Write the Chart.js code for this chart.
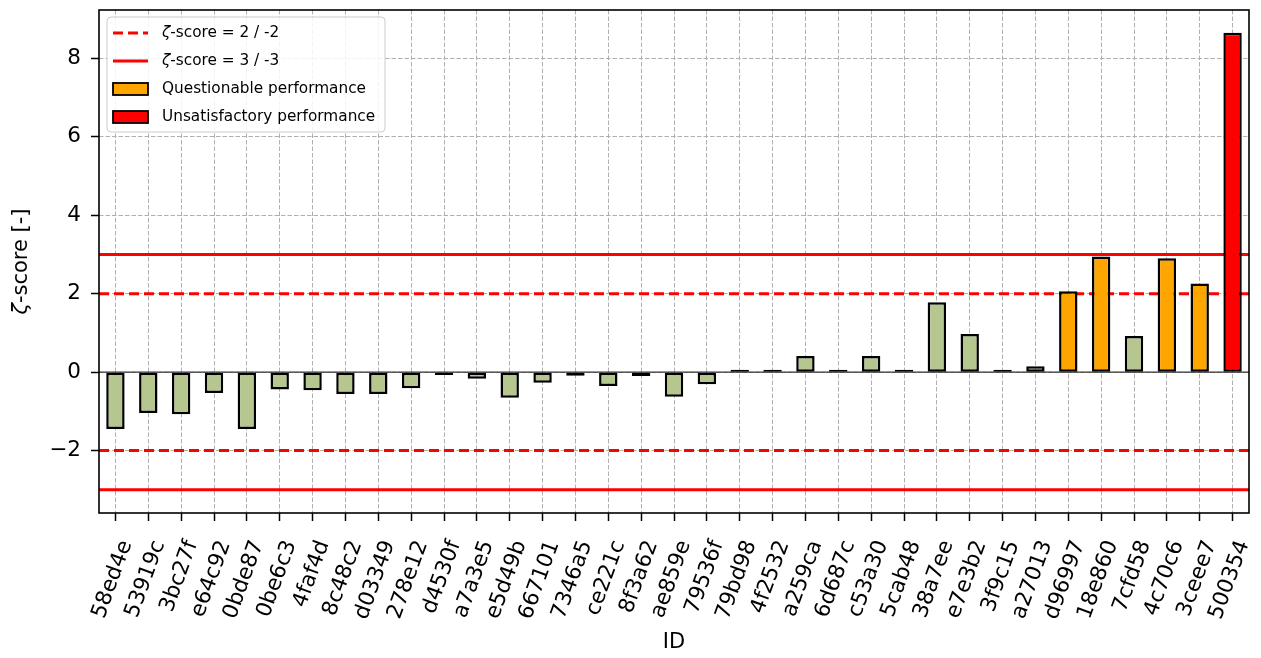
<!DOCTYPE html>
<html>
<head>
<meta charset="utf-8">
<script src="https://cdn.jsdelivr.net/npm/chart.js@4.4.1/dist/chart.umd.min.js"></script>
<style>
    html, body { margin: 0; padding: 0; background: #fff; }
    #wrap { width: 1261px; height: 658px; }
</style>
</head>
<body>
<div id="wrap"><canvas id="zChart" width="1261" height="658"></canvas></div>
<script>

// Participant IDs and their zeta scores
const ids = [
    "58ed4e", "53919c", "3bc27f", "e64c92", "0bde87", "0be6c3", "4faf4d",
    "8c48c2", "d03349", "278e12", "d4530f", "a7a3e5", "e5d49b", "667101",
    "7346a5", "ce221c", "8f3a62", "ae859e", "79536f", "79bd98", "4f2532",
    "a259ca", "6d687c", "c53a30", "5cab48", "38a7ee", "e7e3b2", "3f9c15",
    "a27013", "d96997", "18e860", "7cfd58", "4c70c6", "3ceee7", "500354"
];
const zScores = [
    -1.45, -1.04, -1.07, -0.53, -1.45, -0.44, -0.46,
    -0.56, -0.56, -0.41, -0.07, -0.17, -0.65, -0.27,
    -0.09, -0.35, -0.10, -0.63, -0.31, 0.005, 0.005,
    0.41, 0.05, 0.41, 0.005, 1.78, 0.97, 0.005,
    0.15, 2.06, 2.95, 0.92, 2.90, 2.26, 8.65
];

const yTicks = [-2, 0, 2, 4, 6, 8];
const warnLimit   = 2;
const actionLimit = 3;

const legendLabels = [
    "-score = 2 / -2",
    "-score = 3 / -3",
    "Questionable performance",
    "Unsatisfactory performance"
];

const GREEN  = "#b5c78f";
const ORANGE = "#ffa500";
const RED    = "#ff0000";
const FONT   = "'DejaVu Sans', sans-serif";
const TICK_SIZE = 21.5;

const barColors = zScores.map(z => {
    const a = Math.abs(z);
    if(a >= actionLimit) return RED;
    if(a >= warnLimit) return ORANGE;
    return GREEN;
});

function hline(ctx, area, y, color, width, dash){
    ctx.save();
    ctx.beginPath();
    ctx.setLineDash(dash);
    ctx.strokeStyle = color;
    ctx.lineWidth = width;
    ctx.moveTo(area.left, y);
    ctx.lineTo(area.right, y);
    ctx.stroke();
    ctx.restore();
}

// zeta with italic glyph followed by normal text
function zetaText(ctx, text, x, y, size){
    ctx.font = `italic ${size}px ${FONT}`;
    ctx.fillText("ζ", x, y);
    const w = ctx.measureText("ζ").width;
    ctx.font = `${size}px ${FONT}`;
    ctx.fillText(text, x + w, y);
    return w + ctx.measureText(text).width;
}

const refLines = {
    id: "refLines",
    beforeDatasetsDraw(chart){
        const {ctx, chartArea, scales: {y}} = chart;
        hline(ctx, chartArea, y.getPixelForValue(0), "#333", 1.2, []);
        [warnLimit, -warnLimit].forEach(v =>
            hline(ctx, chartArea, y.getPixelForValue(v), RED, 3, [10, 5]));
        [actionLimit, -actionLimit].forEach(v =>
            hline(ctx, chartArea, y.getPixelForValue(v), RED, 3, []));
    },
    afterDraw(chart){
        const {ctx, chartArea} = chart;

        // frame
        ctx.save();
        ctx.strokeStyle = "#000";
        ctx.lineWidth = 1.6;
        ctx.strokeRect(chartArea.left, chartArea.top,
            chartArea.right - chartArea.left, chartArea.bottom - chartArea.top);
        ctx.restore();

        // axis titles
        ctx.save();
        ctx.fillStyle = "#000";
        ctx.textBaseline = "middle";
        ctx.font = `21px ${FONT}`;
        ctx.textAlign = "center";
        ctx.fillText("ID", (chartArea.left + chartArea.right) / 2, 643);

        ctx.translate(22, (chartArea.top + chartArea.bottom) / 2);
        ctx.rotate(-Math.PI / 2);
        ctx.textAlign = "left";
        ctx.font = `italic 21px ${FONT}`;
        const zw = ctx.measureText("ζ").width;
        ctx.font = `21px ${FONT}`;
        const tw = ctx.measureText("-score [-]").width;
        zetaText(ctx, "-score [-]", -(zw + tw) / 2, 0, 21);
        ctx.restore();

        // legend
        const lx = chartArea.left + 8, ly = chartArea.top + 7;
        const lw = 278, lh = 115;
        ctx.save();
        ctx.beginPath();
        ctx.roundRect(lx, ly, lw, lh, 4);
        ctx.fillStyle = "rgba(255,255,255,0.85)";
        ctx.fill();
        ctx.strokeStyle = "#cccccc";
        ctx.lineWidth = 1;
        ctx.stroke();

        ctx.textBaseline = "middle";
        ctx.textAlign = "left";
        ctx.fillStyle = "#000";
        legendLabels.forEach((label, i) => {
            const cy = ly + 16 + i * 28;
            const hx = lx + 6;
            if(i < 2){
                ctx.beginPath();
                ctx.setLineDash(i === 0 ? [10, 5] : []);
                ctx.strokeStyle = RED;
                ctx.lineWidth = 3;
                ctx.moveTo(hx, cy);
                ctx.lineTo(hx + 35, cy);
                ctx.stroke();
                ctx.setLineDash([]);
                ctx.fillStyle = "#000";
                zetaText(ctx, label, lx + 55, cy, 15.3);
            } else {
                ctx.fillStyle = i === 2 ? ORANGE : RED;
                ctx.fillRect(hx, cy - 6, 35, 12);
                ctx.strokeStyle = "#000";
                ctx.lineWidth = 1.8;
                ctx.strokeRect(hx, cy - 6, 35, 12);
                ctx.fillStyle = "#000";
                ctx.font = `15.3px ${FONT}`;
                ctx.fillText(label, lx + 55, cy);
            }
        });
        ctx.restore();
    }
};

new Chart(document.getElementById("zChart"), {
    type: "bar",
    data: {
        labels: ids,
        datasets: [{
            data: zScores,
            backgroundColor: barColors,
            borderColor: "#000",
            borderWidth: 2.5,
            borderSkipped: false,
            minBarLength: 2.5,
            barPercentage: 0.56,
            categoryPercentage: 1.0
        }]
    },
    options: {
        responsive: false,
        devicePixelRatio: 1,
        animation: false,
        layout: { padding: { top: 10, right: 12, left: 0, bottom: 0 } },
        plugins: {
            legend: { display: false },
            tooltip: { enabled: false }
        },
        scales: {
            x: {
                offset: true,
                afterFit(scale){
                    scale.height = 145;
                    scale.paddingLeft = 0;
                    scale.paddingRight = 0;
                },
                grid: {
                    offset: false,
                    color: "#b0b0b0",
                    lineWidth: 1,
                    drawTicks: true,
                    tickLength: 8,
                    tickColor: "#000",
                    tickWidth: 1.5
                },
                border: { display: false, dash: [4.5, 2] },
                ticks: {
                    autoSkip: false,
                    minRotation: 70,
                    maxRotation: 70,
                    padding: 16,
                    labelOffset: 11,
                    color: "#000",
                    font: { family: FONT, size: TICK_SIZE }
                }
            },
            y: {
                min: -3.59,
                max: 9.23,
                afterFit(scale){
                    scale.width = 99;
                    scale.paddingTop = 0;
                    scale.paddingBottom = 0;
                },
                afterBuildTicks(scale){
                    scale.ticks = yTicks.map(v => ({ value: v }));
                },
                grid: {
                    color: "#b0b0b0",
                    lineWidth: 1,
                    drawTicks: true,
                    tickLength: 8,
                    tickColor: "#000",
                    tickWidth: 1.5
                },
                border: { display: false, dash: [4.5, 2] },
                ticks: {
                    padding: 10,
                    color: "#000",
                    font: { family: FONT, size: TICK_SIZE },
                    callback: v => (v < 0 ? "\u2212" + Math.abs(v) : String(v))
                }
            }
        }
    },
    plugins: [refLines]
});
</script>
</body>
</html>
